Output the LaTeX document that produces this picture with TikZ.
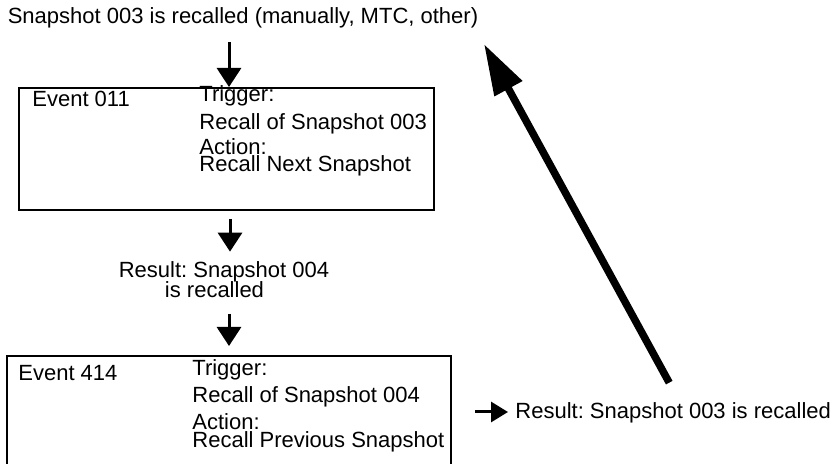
\documentclass[tikz,border=0pt]{standalone}
\usepackage{fontspec}
\setmainfont{Liberation Sans}
\usetikzlibrary{arrows.meta,positioning,fit}
\frenchspacing

\begin{document}
\begin{tikzpicture}[x=0.5pt, y=-0.5pt, font=\fontsize{11}{13}\selectfont,
  txt/.style={inner sep=0pt, anchor=base west},
  evbox/.style={draw, line width=1pt, inner sep=0pt},
  arr/.style={line width=1.5pt, -{Triangle[length=9.5pt,width=12pt]}},
  smallarr/.style={line width=1.5pt, -{Triangle[length=8.5pt,width=10pt]}},
  bigarr/.style={line width=3.75pt, -{Triangle[length=25.5pt,width=15pt]}}]
  \useasboundingbox (0,0) rectangle (835,464);

  % Start: snapshot 003 recalled from outside
  \node[inner sep=0pt, anchor=base] (start) at (243,24) {Snapshot 003 is recalled (manually, MTC, other)};

  % Event 011 box
  \node[evbox, fit={(19,88) (434,210)}] (box1) {};
  \node[txt] (ev1) at (32,107) {Event 011};
  \node[txt] (trig1) at (199,102) {Trigger:};
  \node[txt] (trig1b) at (199,130) {Recall of Snapshot 003};
  \node[txt] (act1) at (199,154.5) {Action:};
  \node[txt] (act1b) at (199,172) {Recall Next Snapshot};

  % Intermediate result
  \node[inner sep=0pt, anchor=base] (res1) at (224,278) {Result: Snapshot 004};
  \node[inner sep=0pt, anchor=base] (res1b) at (214.5,298) {is recalled};

  % Event 414 box
  \node[evbox, fit={(7,356) (451,467)}] (box2) {};
  \node[txt] (ev2) at (18,381) {Event 414};
  \node[txt] (trig2) at (192,376) {Trigger:};
  \node[txt] (trig2b) at (192,402) {Recall of Snapshot 004};
  \node[txt] (act2) at (192,429.5) {Action:};
  \node[txt] (act2b) at (192,447) {Recall Previous Snapshot};

  % Final result, loops back to the start
  \node[txt] (res2) at (515,419) {Result: Snapshot 003 is recalled};

  % Arrows
  \coordinate (a1) at (229,0);
  \coordinate (a2) at (230,0);
  \coordinate (a3) at (229,0);
  \coordinate (a4) at (475,412);
  \coordinate (back) at (484,44);
  \draw[arr, shorten <=6.5pt] (start.south -| a1) -- (box1.north -| a1);
  \draw[arr, shorten <=4pt, shorten >=5pt] (box1.south -| a2) -- (res1.north -| a2);
  \draw[arr, shorten <=7.5pt, shorten >=4.5pt] (res1b.south -| a3) -- (box2.north -| a3);
  \draw[smallarr, shorten >=3.5pt] (a4) -- (a4 -| res2.west);
  \draw[bigarr, shorten <=11.4pt] ([xshift=3.5pt]res2.north) -- (back);
\end{tikzpicture}
\end{document}
